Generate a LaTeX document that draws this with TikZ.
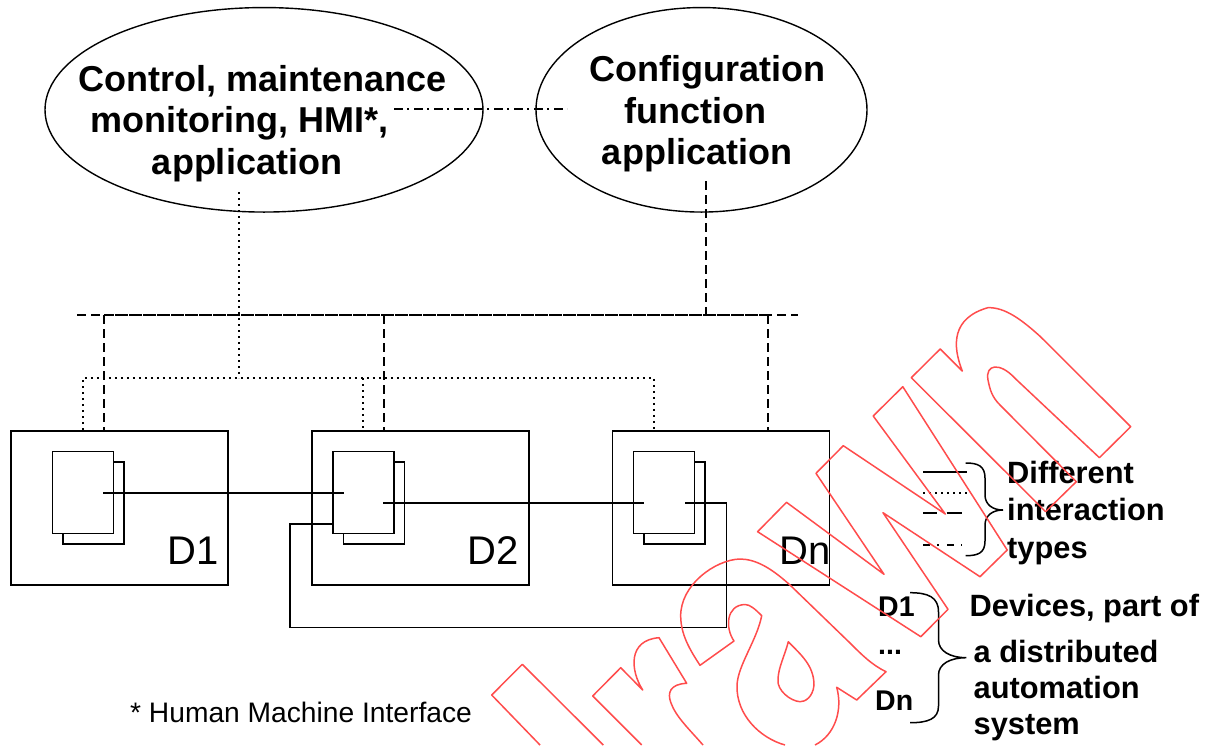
\documentclass[tikz,border=0pt]{standalone}
\usepackage{fontspec}
\setmainfont{Liberation Sans}
\usetikzlibrary{positioning,calc,shapes.geometric}

\tikzset{
    appellipse/.style={draw, ellipse, line width=1.4pt, inner sep=0pt, minimum height=204.5pt},
    biglabel/.style={font=\bfseries\fontsize{36}{41.5}\selectfont, align=center, anchor=base, inner sep=0pt},
    legendlabel/.style={font=\bfseries\fontsize{30.8}{37.5}\selectfont, align=left, anchor=base west, inner sep=0pt},
    keylabel/.style={font=\bfseries\fontsize{28.5}{36.5}\selectfont, anchor=base west, inner sep=0pt},
    devicebox/.style={draw, line width=1.6pt, minimum width=217pt, minimum height=154pt, inner sep=0pt},
    modulebox/.style={draw, line width=1.6pt, fill=white, minimum width=61pt, minimum height=82pt, inner sep=0pt},
    devicelabel/.style={font=\fontsize{40}{42}\selectfont, anchor=base west, inner sep=0pt},
    soliduse/.style={line width=1.6pt},
    dotteduse/.style={line width=2pt, dash pattern=on 2pt off 4pt},
    dasheduse/.style={line width=1.9pt, dash pattern=on 9pt off 5pt},
    dashdotuse/.style={line width=1.7pt, dash pattern=on 9pt off 4pt on 2pt off 5pt},
    bracepath/.style={line width=1.5pt},
    stamp/.style={draw=red!70!white, line width=1.5pt, line join=round}
}

\begin{document}
\begin{tikzpicture}[x=1pt, y=-1pt, node distance=300.7pt]
    \useasboundingbox (0,0) rectangle (1213,745);

    % Applications
    \node[appellipse, minimum width=438pt] (ctrl) at (264,109.8) {};
    \node[appellipse, minimum width=331pt] (config) at (701.5,109.8) {};
    \node[biglabel] (ctrlT) at (263,174) {Control, maintenance\\monitoring, HMI*,\hspace*{47pt}\mbox{}\\application\hspace*{32pt}};
    \node[biglabel] (configT) at (707.5,164.5) {Configuration\\function\hspace*{25pt}\mbox{}\\application\hspace*{21pt}};

    % Devices
    \node[devicebox] (D1) at (119.5,508) {};
    \node[devicebox] (D2) [right of=D1] {};
    \node[devicebox] (Dn) [right of=D2] {};

    % Stacked modules, back one first
    \node[modulebox] (back1) at (93.5,503) {};
    \node[modulebox] (front1) at (83,492.5) {};
    \node[modulebox] (back2) at (373.8,503) {};
    \node[modulebox] (front2) at (363.2,492.5) {};
    \node[modulebox] (backn) at (674.5,503) {};
    \node[modulebox] (frontn) at (664,492.5) {};

    \node[devicelabel] (D1T) at (167.5,564) {D1};
    \node[devicelabel] (D2T) at (467.5,564) {D2};
    \node[devicelabel] (DnT) at (779.5,564) {Dn};

    % Bus and its drops
    \coordinate (busL) at (77,315);
    \coordinate (busR) at (798,315);
    \coordinate (bus1) at (104,315);
    \coordinate (bus2) at (384,315);
    \coordinate (bus3) at (706,315);
    \coordinate (bus4) at (768,315);
    \coordinate (cfgEnd) at (706,181);
    \draw[dasheduse] (busL) -- (busR);
    \draw[dasheduse, dash phase=3pt] (bus1) -- (bus4);
    \draw[dasheduse] (bus1) -- (bus1 |- D1.north);
    \draw[dasheduse] (bus2) -- (bus2 |- D2.north);
    \draw[dasheduse] (bus4) -- (bus4 |- Dn.north);
    \draw[dasheduse] (cfgEnd) -- (bus3);

    % Dotted tree
    \coordinate (ctrlEnd) at (239,192);
    \coordinate (dotMid) at (239,378);
    \coordinate (dot1) at (83,378);
    \coordinate (dot2) at (363,378);
    \coordinate (dot3) at (654,378);
    \draw[dotteduse] (ctrlEnd) -- (dotMid);
    \draw[dotteduse] (dot1 |- D1.north) -- (dot1) -- (dot3) -- (dot3 |- Dn.north);
    \draw[dotteduse] (dot2) -- (dot2 |- D2.north);

    % Between the applications
    \coordinate (linkL) at (394,109);
    \coordinate (linkR) at (567,109);
    \draw[dashdotuse] (linkL) -- (linkR);

    % Links between modules
    \coordinate (a1) at (103,493);
    \coordinate (a2) at (344,493);
    \coordinate (b2) at (383,503);
    \coordinate (b3) at (644,503);
    \coordinate (c3) at (685,503);
    \coordinate (c4) at (726.5,503);
    \coordinate (c5) at (726.5,627.5);
    \coordinate (c6) at (290,627.5);
    \coordinate (c7) at (290,524);
    \draw[soliduse] (a1) -- (a2);
    \draw[soliduse] (b2) -- (b3);
    \draw[soliduse] (c3) -- (c4) -- (c5) -- (c6) -- (c7) -- (c7 -| front2.west);

    % Legend
    \coordinate (leg1) at (923,471.7);
    \coordinate (leg1e) at (966.5,471.7);
    \coordinate (leg2) at (923,492.5);
    \coordinate (leg2e) at (966.5,492.5);
    \coordinate (leg3) at (923,512.7);
    \coordinate (leg3e) at (962,512.7);
    \coordinate (leg4) at (923,544.7);
    \coordinate (leg4e) at (962,544.7);
    \draw[soliduse] (leg1) -- (leg1e);
    \draw[dotteduse] (leg2) -- (leg2e);
    \draw[dasheduse, dash pattern=on 13.6pt off 10pt on 15pt off 5pt] (leg3) -- (leg3e);
    \draw[dashdotuse, dash pattern=on 7pt off 7pt on 2pt off 8pt] (leg4) -- (leg4e);

    \draw[bracepath] (965.7,463) .. controls (978,463) and (985,466) .. (985,478)
        -- (985,495) .. controls (985,504) and (992,510) .. (1003,510)
        .. controls (992,510) and (985,516) .. (985,525)
        -- (985,541) .. controls (985,553) and (978,555.7) .. (965.7,555.7);
    \draw[bracepath] (910,592.7) .. controls (928,592.7) and (938.5,597) .. (938.5,612)
        -- (938.5,640) .. controls (938.5,651) and (950,657.7) .. (966.4,657.7)
        .. controls (950,657.7) and (938.5,664) .. (938.5,675)
        -- (938.5,706) .. controls (938.5,719) and (928,722.7) .. (910,722.7);

    \node[legendlabel] (diffT) at (1007,558) {Different\\interaction\\types};
    \node[legendlabel] (devT) at (969.5,616.7) {Devices, part of};
    \node[legendlabel, font=\bfseries\fontsize{30.8}{35.7}\selectfont] (sysT) at (973.5,734) {a distributed\\automation\\system};
    \node[keylabel] (d1T) at (878,616.7) {D1};
    \node[keylabel] (dotsT) at (878,654) {...};
    \node[keylabel] (dnT) at (875,710.7) {Dn};
    \node[anchor=base west, inner sep=0pt, font=\fontsize{28.2}{30}\selectfont] (hmiT) at (130,722) {* Human Machine Interface};

    % Stamp across the page
    \draw[stamp] (911.3,377.7) -- (940.2,349) -- (962.3,371)
        .. controls (952,345) and (952,318) .. (987.8,307.7)
        .. controls (1005,307) and (1022,320) .. (1040.5,336.7)
        -- (1130.7,426.7) -- (1099.4,457.7) -- (1015,378.3)
        .. controls (1000,362) and (985,364) .. (988,380)
        .. controls (990,390) and (992,397) .. (1000,405)
        -- (1076.3,481.7) -- (1045.6,511.7) -- cycle;
    \draw[stamp] (816,473.3) -- (843.3,445.7) -- (945.3,514) -- (873.2,416) -- (902.8,386.7)
        -- (1007.2,550) -- (980,576.7) -- (883,512.7) -- (948,609.3) -- (920.8,636.7)
        -- (757.6,531.7) -- (786.5,502.3) -- (884,574.3) -- cycle;
    \draw[stamp] (815,745) .. controls (835,735) and (843,710) .. (836.7,687.3)
        -- (856.7,700) -- (886,671.7)
        .. controls (872,665) and (862,655) .. (850,643)
        -- (790,585) .. controls (770,567) and (755,559) .. (739.5,559)
        .. controls (715,560) and (680,585) .. (680.7,616.7)
        .. controls (681,635) and (690,650) .. (700,665.3)
        -- (734,641)
        .. controls (725,628) and (726,605) .. (745,604.5)
        .. controls (750,604.5) and (755,609) .. (761.7,615.7)
        .. controls (757,640) and (738,665) .. (737,685)
        .. controls (736,715) and (760,738) .. (785,745);
    \draw[stamp] (788.3,641.7) .. controls (800,654) and (814,665) .. (814,685)
        .. controls (813,697) and (805,702) .. (800,701.7)
        .. controls (790,701) and (777,690) .. (778,680)
        .. controls (778,668) and (785,655) .. (788.3,641.7) -- cycle;
    \draw[stamp] (641.7,745) -- (592.7,696) -- (620.7,667.7) -- (642.7,690)
        .. controls (630,670) and (628,640) .. (659,637.7)
        -- (686.7,683.3)
        .. controls (670,684) and (667,693) .. (671,703)
        .. controls (676,717) and (690,730) .. (703,745);
    \draw[stamp] (540,745) -- (491.7,695) -- (522.3,664.3) -- (603.3,745);
\end{tikzpicture}
\end{document}
